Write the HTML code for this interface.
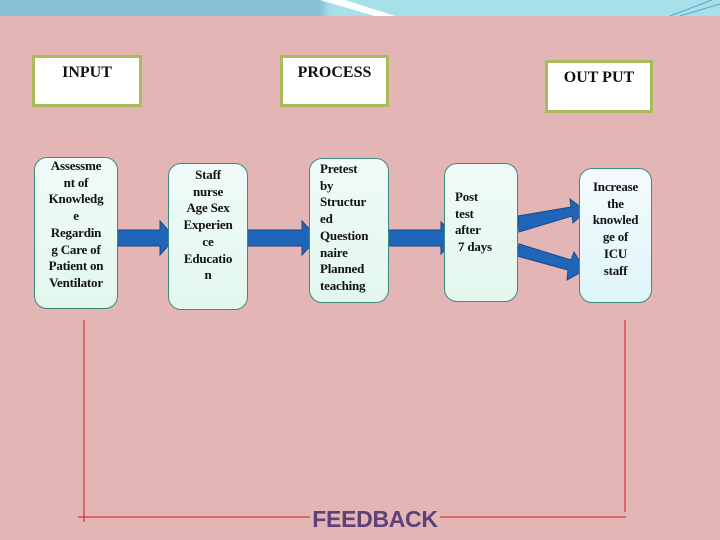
<!DOCTYPE html>
<html><head><meta charset="utf-8"><style>
body{margin:0;width:720px;height:540px;overflow:hidden;background:#e4b5b5;position:relative;font-family:"Liberation Serif",serif}
.hb{position:absolute;background:#fff;border:3px solid #a9bb5a;box-sizing:border-box;text-align:center;font-size:16px;font-weight:bold;color:#111}
.rb{position:absolute;border:1px solid #3f8a7e;border-radius:13px;box-sizing:border-box;background:linear-gradient(#f0fbf9,#e2f7ee);font-size:13px;font-weight:bold;line-height:16.7px;color:#111;letter-spacing:-0.2px}
</style></head><body>
<div style="position:absolute;left:0;top:0;width:720px;height:16px;background:linear-gradient(90deg,#88c0d8 0,#88c0d8 320px,#a8e0ea 330px,#a8e0ea 100%)"></div>
<svg style="position:absolute;left:0;top:0" width="720" height="540">
<polygon points="320,0 345,0 395,16 375,16" fill="#fff"/>
<line x1="670" y1="16" x2="712" y2="0" stroke="#5aa8cc" stroke-width="1"/>
<line x1="680" y1="16" x2="720" y2="4" stroke="#5aa8cc" stroke-width="1"/>
<g fill="#1f66b8" stroke="#17498a" stroke-width="1">
<polygon points="117,230 160,230 160,221 175,238 160,255 160,246 117,246"/>
<polygon points="247,230 302,230 302,221 318,238 302,255 302,246 247,246"/>
<polygon points="388,230 441,230 441,222 457,238 441,254 441,246 388,246"/>
<polygon points="518,216 571,207 570,199 586,211 573,223 572,216 519,232"/>
<polygon points="519,244 571,260 574,252 585,270 567,280 568,270 517,256"/>
</g>
<g stroke="#d01a24" stroke-width="1">
<line x1="84" y1="320" x2="84" y2="522"/>
<line x1="78" y1="517" x2="310" y2="517"/>
<line x1="440" y1="517" x2="626" y2="517"/>
<line x1="625" y1="320" x2="625" y2="512"/>
</g>
</svg>
<div class="hb" style="left:32px;top:55px;width:110px;height:52px;padding-top:6px">INPUT</div>
<div class="hb" style="left:280px;top:55px;width:109px;height:52px;padding-top:6px">PROCESS</div>
<div class="hb" style="left:545px;top:60px;width:108px;height:53px;padding-top:6px">OUT PUT</div>
<div class="rb" style="left:34px;top:157px;width:84px;height:152px;text-align:center;padding-top:0">Assessme<br>nt of<br>Knowledg<br>e<br>Regardin<br>g Care of<br>Patient on<br>Ventilator</div>
<div class="rb" style="left:168px;top:163px;width:80px;height:147px;text-align:center;padding-top:3px">Staff<br>nurse<br>Age Sex<br>Experien<br>ce<br>Educatio<br>n</div>
<div class="rb" style="left:309px;top:158px;width:80px;height:145px;padding:2px 0 0 10px">Pretest<br>by<br>Structur<br>ed<br>Question<br>naire<br>Planned<br>teaching</div>
<div class="rb" style="left:444px;top:163px;width:74px;height:139px;padding:25px 0 0 10px">Post<br>test<br>after<br>&nbsp;7 days</div>
<div class="rb" style="left:579px;top:168px;width:73px;height:135px;text-align:center;padding-top:10px;background:linear-gradient(#f4fbfc,#dff5fa)">Increase<br>the<br>knowled<br>ge of<br>ICU<br>staff</div>
<div style="position:absolute;left:310px;top:506px;width:130px;text-align:center;font-family:'Liberation Sans',sans-serif;font-weight:bold;font-size:23px;color:#5e4277;letter-spacing:-0.3px">FEEDBACK</div>
</body></html>
